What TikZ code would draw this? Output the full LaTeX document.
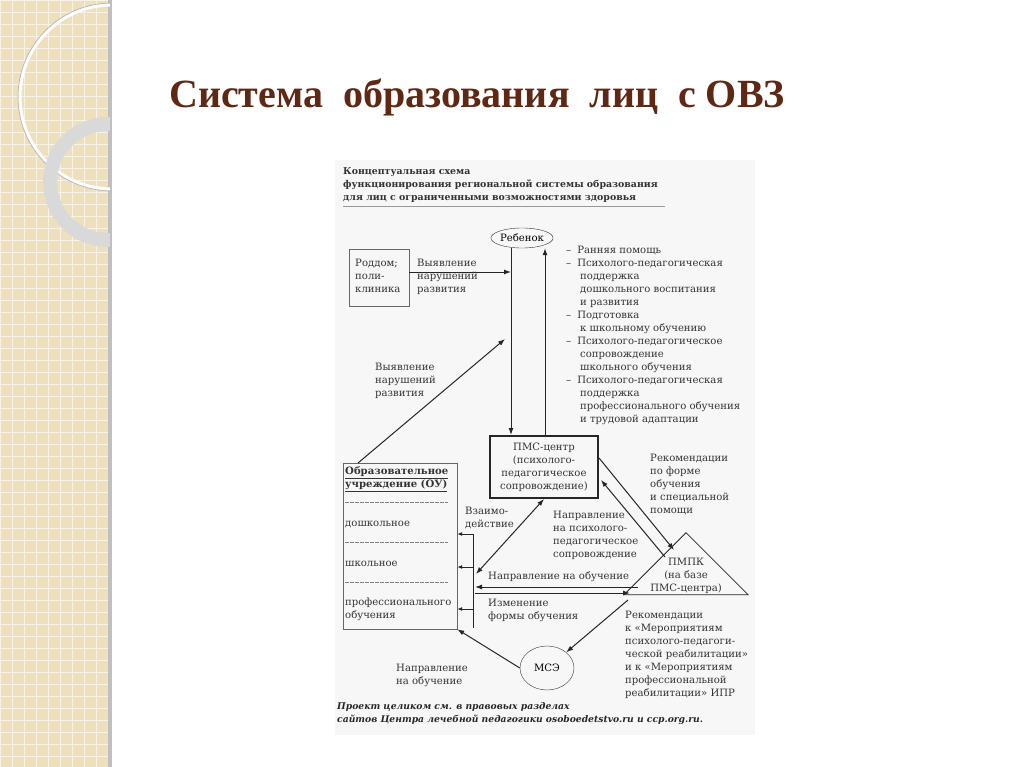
\documentclass[tikz,border=0pt]{standalone}
\usepackage{fontspec}
\setmainfont{DejaVu Serif}
\newfontfamily\titlefont{Liberation Serif}
\usetikzlibrary{arrows.meta,shapes.geometric}
\definecolor{strip}{RGB}{238,224,188}
\begin{document}
\begin{tikzpicture}[x=1pt,y=-1pt,
  txt/.style={anchor=west,inner sep=0pt,font=\fontsize{10.1}{13}\selectfont,text=black!80},
  ln/.style={draw=black!85,line width=1pt},
  arr/.style={ln,-{Latex[length=7pt,width=5pt]}},
  darr/.style={ln,{Latex[length=7pt,width=5pt]}-{Latex[length=7pt,width=5pt]}}]
\useasboundingbox (0,0) rectangle (1024,767);
% background strip
\fill[white] (0,0) rectangle (1024,767);
\fill[strip] (0,0) rectangle (110,767);
\foreach \i in {0,12,...,767} \draw[white!60!strip,line width=0.8pt] (0,\i) -- (110,\i);
\foreach \i in {0,12,...,110} \draw[white!60!strip,line width=0.8pt] (\i,0) -- (\i,767);
\fill[black!25] (108,0) rectangle (112,767);
\begin{scope}
\clip (0,0) rectangle (110,767);
\draw[white,line width=3pt] (112,97) circle (92);
\draw[black!30,line width=0.6pt] (112,97) circle (94);
\draw[black!15,line width=14pt] (108,182) circle (58);
\end{scope}
% title
\node[inner sep=0pt,font=\titlefont\bfseries\fontsize{40}{40}\selectfont,text={rgb,255:red,95;green,40;blue,20}] (title) at (477,97) {Система\ \ образования\ \ лиц\ \ с ОВЗ};
% diagram background
\fill[black!3] (335,160) rectangle (755,735);
% header
\node[anchor=west,inner sep=0pt,align=left,font=\bfseries\fontsize{9.4}{13}\selectfont,text=black!80] (hdr) at (343,185) {Концептуальная схема\\функционирования региональной системы образования\\для лиц с ограниченными возможностями здоровья};
\draw[black!40] (343,206) -- (665,206);
% nodes
\node[ellipse,draw=black!80,minimum width=60pt,minimum height=20pt,inner sep=0pt,font=\fontsize{10.1}{12}\selectfont] (child) at (522,238) {Ребенок};
\node[draw=black!60,minimum width=60pt,minimum height=57pt,inner sep=0pt] (rod) at (379,278) {};
\node[txt] (rodt) at (355,277) {\begin{tabular}{@{}l@{}}Роддом;\\поли-\\клиника\end{tabular}};
\node[draw=black!85,line width=2pt,minimum width=108pt,minimum height=62pt,inner sep=0pt] (pms) at (544,467) {};
\node[inner sep=0pt,align=center,font=\fontsize{10.1}{13}\selectfont,text=black!80] (pmst) at (544,467) {ПМС-центр\\(психолого-\\педагогическое\\сопровождение)};
\node[draw=black!60,minimum width=114pt,minimum height=166pt,inner sep=0pt] (ou) at (400,546) {};
\node[txt,align=left] (out) at (345,479.5) {\textbf{\underline{Образовательное}}\\\textbf{\underline{учреждение (ОУ)}}};
\foreach \y/\n in {502/d1,542/d2,582/d3} \draw[black!50,dash pattern=on 4pt off 1pt] (345,\y) -- (448,\y);
\node[txt] (o1) at (345,524) {дошкольное};
\node[txt] (o2) at (345,564) {школьное};
\node[txt,align=left] (o3) at (345,609.5) {профессионального\\обучения};
\node[isosceles triangle,isosceles triangle apex angle=90,shape border rotate=90,draw=black!85,line width=0.8pt,minimum width=122pt,minimum height=62pt,inner sep=0pt] (pmpk) at (686,569) {};
\node[inner sep=0pt,align=center,font=\fontsize{10.1}{13}\selectfont,text=black!80] (pmpkt) at (686,576) {ПМПК\\(на базе\\ПМС-центра)};
\node[ellipse,draw=black!80,minimum width=54pt,minimum height=44pt,inner sep=0pt,font=\fontsize{10.1}{12}\selectfont] (mse) at (547,668) {МСЭ};
% connectors top
\coordinate (r1) at (511,272);
\draw[arr] (rod.east|-r1) -- (r1);
\draw[arr] (child.south-|r1) -- (pms.north-|r1);
\coordinate (u1) at (545,0);
\draw[arr] (pms.north-|u1) -- (child.south-|u1);
\coordinate (ou1) at (358,463);
\coordinate (d1) at (505,339);
\draw[arr] (ou1) -- (d1);
% bracket
\coordinate (bt) at (473,534);
\coordinate (bb) at (473,628);
\draw[ln] (bt) -- (bb);
\foreach \y in {534,567,609} \draw[ln,-{Latex[length=5pt,width=4pt]}] (473,\y) -- (ou.east|-0,\y);
\coordinate (bx) at (476,574);
\draw[darr] (pms.south) coordinate (ps) -- (bx);
% horizontal arrows
\coordinate (h1) at (475,587);
\coordinate (h2) at (475,593);
\coordinate (t1) at (638,587);
\coordinate (t2) at (630,593);
\draw[arr] (t1) -- (h1);
\draw[arr] (h2) -- (t2);
% pms - pmpk
\coordinate (p1) at (599,458);
\coordinate (p2) at (674,550);
\draw[arr] (p1) -- (p2);
\coordinate (p3) at (665,557);
\coordinate (p4) at (601,480);
\draw[arr] (p3) -- (p4);
% pmpk - mse - ou
\coordinate (m1) at (628,600);
\draw[arr] (m1) -- (mse.north east);
\draw[arr] (mse.west) -- (ou.south east);
% labels
\node[txt,align=left] (l1) at (417,277) {Выявление\\нарушений\\развития};
\node[txt,align=left] (l2) at (375,380.5) {Выявление\\нарушений\\развития};
\node[txt,align=left] (l3) at (465,518.5) {Взаимо-\\действие};
\node[txt,align=left] (l4) at (553,535.5) {Направление\\на психолого-\\педагогическое\\сопровождение};
\node[txt,align=left] (l5) at (650,485) {Рекомендации\\по форме\\обучения\\и специальной\\помощи};
\node[txt] (l6) at (488,577) {Направление на обучение};
\node[txt,align=left] (l7) at (488,610.5) {Изменение\\формы обучения};
\node[txt,align=left] (l8) at (396,675) {Направление\\на обучение};
\node[txt,align=left] (l9) at (625,655) {Рекомендации\\к «Мероприятиям\\психолого-педагоги-\\ческой реабилитации»\\и к «Мероприятиям\\профессиональной\\реабилитации» ИПР};
\node[txt,align=left] (list) at (566,335.5) {–\hspace{6pt}Ранняя помощь\\–\hspace{6pt}Психолого-педагогическая\\\hspace{14pt}поддержка\\\hspace{14pt}дошкольного воспитания\\\hspace{14pt}и развития\\–\hspace{6pt}Подготовка\\\hspace{14pt}к школьному обучению\\–\hspace{6pt}Психолого-педагогическое\\\hspace{14pt}сопровождение\\\hspace{14pt}школьного обучения\\–\hspace{6pt}Психолого-педагогическая\\\hspace{14pt}поддержка\\\hspace{14pt}профессионального обучения\\\hspace{14pt}и трудовой адаптации};
\node[anchor=west,inner sep=0pt,align=left,font=\bfseries\itshape\fontsize{9.2}{13}\selectfont,text=black!85] (foot) at (337,713.5) {Проект целиком см. в правовых разделах\\сайтов Центра лечебной педагогики osoboedetstvo.ru и ccp.org.ru.};
\end{tikzpicture}
\end{document}
